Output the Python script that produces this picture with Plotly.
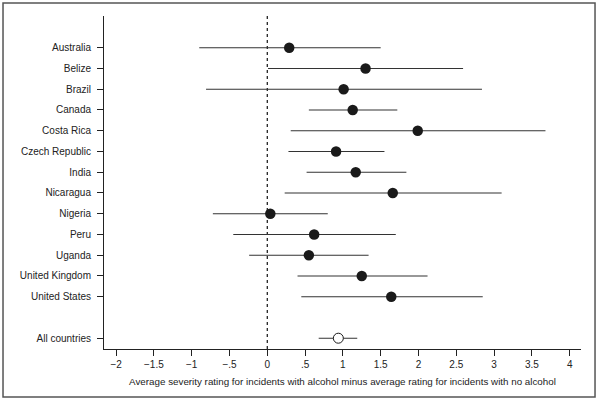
import plotly.graph_objects as go

countries = ["Australia", "Belize", "Brazil", "Canada", "Costa Rica", "Czech Republic",
             "India", "Nicaragua", "Nigeria", "Peru", "Uganda", "United Kingdom",
             "United States"]
estimates = [0.29, 1.30, 1.01, 1.13, 1.99, 0.91, 1.17, 1.66, 0.04, 0.62, 0.55, 1.25, 1.64]
lower = [-0.90, 0.01, -0.81, 0.55, 0.31, 0.28, 0.52, 0.23, -0.72, -0.45, -0.24, 0.40, 0.45]
upper = [1.50, 2.59, 2.84, 1.72, 3.68, 1.55, 1.84, 3.10, 0.80, 1.70, 1.34, 2.12, 2.85]

overall_label = "All countries"
overall_est = 0.94
overall_lower = 0.68
overall_upper = 1.19

x_tickvals = [-2, -1.5, -1, -0.5, 0, 0.5, 1, 1.5, 2, 2.5, 3, 3.5, 4]
x_ticktext = ["\u22122", "\u22121.5", "\u22121", "\u2212.5", "0", ".5", "1", "1.5",
              "2", "2.5", "3", "3.5", "4"]

rows = list(range(1, len(countries) + 1))
overall_row = len(countries) + 2

font = dict(family="Liberation Sans, Arial, sans-serif", size=10, color="#222")

fig = go.Figure()

fig.add_trace(go.Scatter(
    x=estimates, y=rows, mode="markers",
    marker=dict(size=10.5, color="#1a1a1a", line=dict(width=0)),
    error_x=dict(type="data", symmetric=False,
                 array=[u - e for u, e in zip(upper, estimates)],
                 arrayminus=[e - l for e, l in zip(estimates, lower)],
                 width=0, thickness=1.1, color="#333"),
    showlegend=False, hoverinfo="skip"))

fig.add_trace(go.Scatter(
    x=[overall_est], y=[overall_row], mode="markers",
    marker=dict(size=10, color="white", line=dict(width=1, color="#1a1a1a")),
    error_x=dict(type="data", symmetric=False,
                 array=[overall_upper - overall_est],
                 arrayminus=[overall_est - overall_lower],
                 width=0, thickness=1.1, color="#333"),
    showlegend=False, hoverinfo="skip"))

fig.add_shape(type="line", xref="x", yref="paper", x0=0, x1=0, y0=0, y1=1,
              line=dict(color="#111", width=1.2, dash="dot"), layer="below")

# outer frame
fig.add_shape(type="rect", xref="paper", yref="paper",
              x0=-0.2117, x1=1.0294, y0=-0.144, y1=1.039,
              line=dict(color="#555", width=1.5))

fig.update_layout(
    width=601, height=401,
    margin=dict(l=104, r=20, t=16, b=52),
    paper_bgcolor="white", plot_bgcolor="white",
    font=font,
    xaxis=dict(range=[-2.16, 4.15], tickvals=x_tickvals, ticktext=x_ticktext,
               showline=True, linecolor="#222", linewidth=1,
               ticks="outside", ticklen=6, tickcolor="#222", tickwidth=1,
               showgrid=False, zeroline=False,
               title=dict(text="Average severity rating for incidents with alcohol minus average rating for incidents with no alcohol",
                          font=dict(size=9.8), standoff=9)),
    yaxis=dict(range=[overall_row + 0.52, -0.53],
               tickvals=rows + [overall_row], ticktext=countries + [overall_label],
               showline=True, linecolor="#222", linewidth=1,
               ticks="outside", ticklen=6, tickcolor="#222", tickwidth=1,
               showgrid=False, zeroline=False, ticklabelstandoff=4),
)

fig.write_html("out.html", config={"displayModeBar": False},
               post_script="document.body.style.margin='0';")
